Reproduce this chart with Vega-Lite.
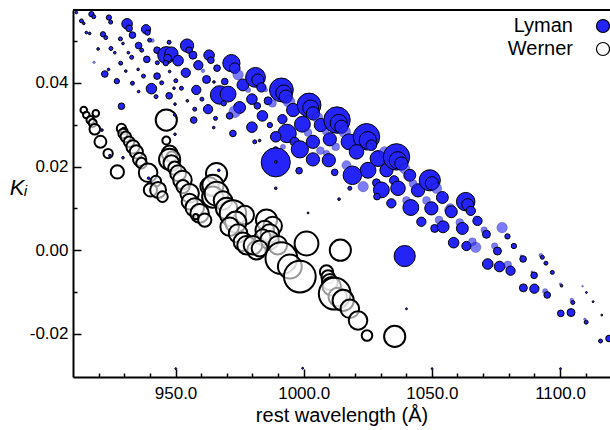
{
  "$schema": "https://vega.github.io/schema/vega-lite/v6.json",
  "width": 537,
  "height": 367,
  "autosize": {"type": "none"},
  "padding": {"left": 73, "top": 10, "right": 0, "bottom": 53},
  "config": {"font": "Liberation Sans", "view": {"stroke": null}},
  "data": {"values": [
    {"band":"Lyman","wl":911.3,"k":0.0568,"w":4,"g":"a"},
    {"band":"Lyman","wl":917.2,"k":0.0564,"w":16,"g":"a"},
    {"band":"Lyman","wl":918.1,"k":0.0558,"w":9,"g":"a"},
    {"band":"Lyman","wl":924.0,"k":0.0556,"w":16,"g":"a"},
    {"band":"Lyman","wl":924.7,"k":0.0545,"w":9,"g":"a"},
    {"band":"Lyman","wl":931.1,"k":0.0541,"w":64,"g":"a"},
    {"band":"Lyman","wl":931.9,"k":0.0530,"w":25,"g":"a"},
    {"band":"Lyman","wl":938.5,"k":0.0528,"w":49,"g":"a"},
    {"band":"Lyman","wl":939.1,"k":0.0520,"w":16,"g":"a"},
    {"band":"Lyman","wl":941.0,"k":0.0501,"w":9,"g":"b"},
    {"band":"Lyman","wl":947.5,"k":0.0497,"w":9,"g":"a"},
    {"band":"Lyman","wl":954.5,"k":0.0489,"w":100,"g":"a"},
    {"band":"Lyman","wl":955.3,"k":0.0478,"w":25,"g":"a"},
    {"band":"Lyman","wl":956.8,"k":0.0466,"w":36,"g":"a"},
    {"band":"Lyman","wl":963.1,"k":0.0466,"w":64,"g":"a"},
    {"band":"Lyman","wl":963.8,"k":0.0454,"w":25,"g":"a"},
    {"band":"Lyman","wl":971.8,"k":0.0447,"w":169,"g":"a"},
    {"band":"Lyman","wl":973.1,"k":0.0435,"w":64,"g":"a"},
    {"band":"Lyman","wl":974.4,"k":0.0419,"w":64,"g":"b"},
    {"band":"Lyman","wl":976.3,"k":0.0395,"w":81,"g":"a"},
    {"band":"Lyman","wl":978.3,"k":0.0383,"w":16,"g":"b"},
    {"band":"Lyman","wl":981.2,"k":0.0413,"w":225,"g":"a"},
    {"band":"Lyman","wl":982.1,"k":0.0407,"w":81,"g":"a"},
    {"band":"Lyman","wl":983.5,"k":0.0389,"w":49,"g":"a"},
    {"band":"Lyman","wl":979.8,"k":0.0361,"w":64,"g":"a"},
    {"band":"Lyman","wl":981.9,"k":0.0345,"w":25,"g":"a"},
    {"band":"Lyman","wl":983.9,"k":0.0321,"w":64,"g":"a"},
    {"band":"Lyman","wl":979.8,"k":0.0294,"w":64,"g":"a"},
    {"band":"Lyman","wl":980.9,"k":0.0259,"w":9,"g":"a"},
    {"band":"Lyman","wl":982.8,"k":0.0262,"w":4,"g":"a"},
    {"band":"Lyman","wl":913.3,"k":0.0548,"w":9,"g":"a"},
    {"band":"Lyman","wl":914.2,"k":0.0542,"w":4,"g":"a"},
    {"band":"Lyman","wl":915.2,"k":0.0520,"w":4,"g":"a"},
    {"band":"Lyman","wl":916.5,"k":0.0518,"w":4,"g":"a"},
    {"band":"Lyman","wl":921.7,"k":0.0516,"w":16,"g":"a"},
    {"band":"Lyman","wl":922.8,"k":0.0508,"w":9,"g":"a"},
    {"band":"Lyman","wl":928.5,"k":0.0505,"w":9,"g":"a"},
    {"band":"Lyman","wl":929.5,"k":0.0494,"w":4,"g":"a"},
    {"band":"Lyman","wl":933.2,"k":0.0514,"w":25,"g":"a"},
    {"band":"Lyman","wl":935.6,"k":0.0489,"w":25,"g":"a"},
    {"band":"Lyman","wl":936.8,"k":0.0478,"w":9,"g":"a"},
    {"band":"Lyman","wl":942.8,"k":0.0478,"w":25,"g":"a"},
    {"band":"Lyman","wl":939.9,"k":0.0502,"w":9,"g":"a"},
    {"band":"Lyman","wl":946.4,"k":0.0466,"w":169,"g":"a"},
    {"band":"Lyman","wl":948.4,"k":0.0470,"w":100,"g":"a"},
    {"band":"Lyman","wl":946.9,"k":0.0459,"w":36,"g":"a"},
    {"band":"Lyman","wl":951.0,"k":0.0453,"w":64,"g":"a"},
    {"band":"Lyman","wl":946.2,"k":0.0447,"w":16,"g":"a"},
    {"band":"Lyman","wl":947.7,"k":0.0427,"w":4,"g":"a"},
    {"band":"Lyman","wl":954.0,"k":0.0424,"w":49,"g":"a"},
    {"band":"Lyman","wl":958.9,"k":0.0442,"w":49,"g":"a"},
    {"band":"Lyman","wl":960.7,"k":0.0429,"w":9,"g":"b"},
    {"band":"Lyman","wl":962.1,"k":0.0408,"w":36,"g":"a"},
    {"band":"Lyman","wl":966.2,"k":0.0435,"w":25,"g":"a"},
    {"band":"Lyman","wl":969.2,"k":0.0403,"w":25,"g":"a"},
    {"band":"Lyman","wl":965.0,"k":0.0402,"w":4,"g":"a"},
    {"band":"Lyman","wl":967.2,"k":0.0371,"w":196,"g":"a"},
    {"band":"Lyman","wl":970.5,"k":0.0373,"w":144,"g":"a"},
    {"band":"Lyman","wl":968.8,"k":0.0351,"w":16,"g":"a"},
    {"band":"Lyman","wl":975.0,"k":0.0341,"w":81,"g":"a"},
    {"band":"Lyman","wl":973.1,"k":0.0331,"w":81,"g":"b"},
    {"band":"Lyman","wl":971.1,"k":0.0321,"w":25,"g":"a"},
    {"band":"Lyman","wl":919.8,"k":0.0481,"w":4,"g":"a"},
    {"band":"Lyman","wl":918.2,"k":0.0449,"w":4,"g":"b"},
    {"band":"Lyman","wl":924.8,"k":0.0482,"w":9,"g":"a"},
    {"band":"Lyman","wl":926.3,"k":0.0472,"w":4,"g":"a"},
    {"band":"Lyman","wl":931.6,"k":0.0472,"w":4,"g":"a"},
    {"band":"Lyman","wl":928.6,"k":0.0447,"w":9,"g":"a"},
    {"band":"Lyman","wl":932.9,"k":0.0461,"w":9,"g":"a"},
    {"band":"Lyman","wl":938.8,"k":0.0456,"w":25,"g":"a"},
    {"band":"Lyman","wl":942.9,"k":0.0448,"w":9,"g":"a"},
    {"band":"Lyman","wl":930.6,"k":0.0428,"w":4,"g":"a"},
    {"band":"Lyman","wl":935.4,"k":0.0432,"w":4,"g":"a"},
    {"band":"Lyman","wl":922.4,"k":0.0421,"w":25,"g":"a"},
    {"band":"Lyman","wl":923.9,"k":0.0432,"w":4,"g":"a"},
    {"band":"Lyman","wl":927.1,"k":0.0404,"w":16,"g":"a"},
    {"band":"Lyman","wl":933.2,"k":0.0399,"w":9,"g":"a"},
    {"band":"Lyman","wl":937.5,"k":0.0416,"w":9,"g":"a"},
    {"band":"Lyman","wl":942.8,"k":0.0416,"w":25,"g":"a"},
    {"band":"Lyman","wl":944.6,"k":0.0400,"w":9,"g":"a"},
    {"band":"Lyman","wl":940.6,"k":0.0386,"w":64,"g":"a"},
    {"band":"Lyman","wl":942.4,"k":0.0367,"w":9,"g":"a"},
    {"band":"Lyman","wl":935.6,"k":0.0379,"w":4,"g":"a"},
    {"band":"Lyman","wl":947.5,"k":0.0369,"w":25,"g":"a"},
    {"band":"Lyman","wl":949.4,"k":0.0387,"w":4,"g":"a"},
    {"band":"Lyman","wl":950.1,"k":0.0405,"w":9,"g":"a"},
    {"band":"Lyman","wl":952.3,"k":0.0387,"w":9,"g":"a"},
    {"band":"Lyman","wl":958.1,"k":0.0383,"w":49,"g":"a"},
    {"band":"Lyman","wl":960.3,"k":0.0361,"w":9,"g":"a"},
    {"band":"Lyman","wl":954.6,"k":0.0357,"w":4,"g":"a"},
    {"band":"Lyman","wl":949.8,"k":0.0349,"w":4,"g":"a"},
    {"band":"Lyman","wl":957.5,"k":0.0337,"w":9,"g":"a"},
    {"band":"Lyman","wl":962.7,"k":0.0337,"w":49,"g":"a"},
    {"band":"Lyman","wl":965.6,"k":0.0315,"w":9,"g":"a"},
    {"band":"Lyman","wl":957.1,"k":0.0311,"w":25,"g":"a"},
    {"band":"Lyman","wl":964.9,"k":0.0293,"w":4,"g":"a"},
    {"band":"Lyman","wl":928.9,"k":0.0344,"w":25,"g":"a"},
    {"band":"Lyman","wl":949.7,"k":0.0323,"w":4,"g":"a"},
    {"band":"Lyman","wl":949.8,"k":0.0277,"w":4,"g":"a"},
    {"band":"Lyman","wl":972.4,"k":0.0279,"w":25,"g":"a"},
    {"band":"Lyman","wl":985.2,"k":0.0383,"w":9,"g":"b"},
    {"band":"Lyman","wl":986.1,"k":0.0357,"w":36,"g":"a"},
    {"band":"Lyman","wl":987.8,"k":0.0351,"w":36,"g":"b"},
    {"band":"Lyman","wl":991.3,"k":0.0383,"w":324,"g":"a"},
    {"band":"Lyman","wl":992.2,"k":0.0376,"w":144,"g":"a"},
    {"band":"Lyman","wl":993.0,"k":0.0367,"w":100,"g":"a"},
    {"band":"Lyman","wl":994.3,"k":0.0355,"w":81,"g":"b"},
    {"band":"Lyman","wl":995.9,"k":0.0335,"w":100,"g":"a"},
    {"band":"Lyman","wl":991.7,"k":0.0313,"w":49,"g":"a"},
    {"band":"Lyman","wl":986.8,"k":0.0299,"w":16,"g":"a"},
    {"band":"Lyman","wl":993.5,"k":0.0279,"w":196,"g":"a"},
    {"band":"Lyman","wl":989.1,"k":0.0271,"w":64,"g":"a"},
    {"band":"Lyman","wl":996.5,"k":0.0259,"w":49,"g":"a"},
    {"band":"Lyman","wl":991.9,"k":0.0247,"w":16,"g":"b"},
    {"band":"Lyman","wl":1002.1,"k":0.0347,"w":324,"g":"a"},
    {"band":"Lyman","wl":1002.7,"k":0.0340,"w":144,"g":"a"},
    {"band":"Lyman","wl":1003.6,"k":0.0327,"w":100,"g":"a"},
    {"band":"Lyman","wl":1005.4,"k":0.0317,"w":64,"g":"b"},
    {"band":"Lyman","wl":999.5,"k":0.0301,"w":144,"g":"a"},
    {"band":"Lyman","wl":1001.7,"k":0.0281,"w":36,"g":"b"},
    {"band":"Lyman","wl":1003.6,"k":0.0259,"w":100,"g":"a"},
    {"band":"Lyman","wl":1006.7,"k":0.0299,"w":100,"g":"a"},
    {"band":"Lyman","wl":1010.2,"k":0.0265,"w":100,"g":"a"},
    {"band":"Lyman","wl":1008.6,"k":0.0283,"w":25,"g":"b"},
    {"band":"Lyman","wl":1013.0,"k":0.0311,"w":400,"g":"a"},
    {"band":"Lyman","wl":1013.7,"k":0.0304,"w":169,"g":"a"},
    {"band":"Lyman","wl":1014.7,"k":0.0295,"w":100,"g":"a"},
    {"band":"Lyman","wl":1016.0,"k":0.0283,"w":81,"g":"b"},
    {"band":"Lyman","wl":1017.7,"k":0.0259,"w":144,"g":"a"},
    {"band":"Lyman","wl":1012.5,"k":0.0247,"w":36,"g":"b"},
    {"band":"Lyman","wl":1024.5,"k":0.0271,"w":400,"g":"a"},
    {"band":"Lyman","wl":1025.0,"k":0.0263,"w":169,"g":"a"},
    {"band":"Lyman","wl":1026.4,"k":0.0251,"w":64,"g":"a"},
    {"band":"Lyman","wl":998.5,"k":0.0241,"w":169,"g":"a"},
    {"band":"Lyman","wl":989.1,"k":0.0241,"w":16,"g":"a"},
    {"band":"Lyman","wl":1006.5,"k":0.0238,"w":36,"g":"b"},
    {"band":"Lyman","wl":1008.9,"k":0.0231,"w":25,"g":"b"},
    {"band":"Lyman","wl":1009.8,"k":0.0215,"w":100,"g":"a"},
    {"band":"Lyman","wl":1003.6,"k":0.0217,"w":100,"g":"a"},
    {"band":"Lyman","wl":998.2,"k":0.0190,"w":25,"g":"a"},
    {"band":"Lyman","wl":1012.1,"k":0.0186,"w":25,"g":"a"},
    {"band":"Lyman","wl":1016.7,"k":0.0203,"w":49,"g":"b"},
    {"band":"Lyman","wl":1020.6,"k":0.0235,"w":121,"g":"a"},
    {"band":"Lyman","wl":1025.8,"k":0.0247,"w":36,"g":"b"},
    {"band":"Lyman","wl":1029.0,"k":0.0219,"w":144,"g":"a"},
    {"band":"Lyman","wl":1031.6,"k":0.0235,"w":64,"g":"b"},
    {"band":"Lyman","wl":1025.1,"k":0.0191,"w":144,"g":"a"},
    {"band":"Lyman","wl":1019.0,"k":0.0179,"w":196,"g":"a"},
    {"band":"Lyman","wl":1023.2,"k":0.0152,"w":64,"g":"b"},
    {"band":"Lyman","wl":1018.0,"k":0.0148,"w":9,"g":"a"},
    {"band":"Lyman","wl":1028.4,"k":0.0161,"w":36,"g":"a"},
    {"band":"Lyman","wl":1030.3,"k":0.0144,"w":144,"g":"a"},
    {"band":"Lyman","wl":1028.6,"k":0.0128,"w":25,"g":"a"},
    {"band":"Lyman","wl":1032.3,"k":0.0191,"w":100,"g":"a"},
    {"band":"Lyman","wl":1035.3,"k":0.0167,"w":49,"g":"a"},
    {"band":"Lyman","wl":1036.8,"k":0.0148,"w":121,"g":"a"},
    {"band":"Lyman","wl":1034.2,"k":0.0112,"w":49,"g":"a"},
    {"band":"Lyman","wl":1036.2,"k":0.0223,"w":400,"g":"a"},
    {"band":"Lyman","wl":1036.7,"k":0.0215,"w":169,"g":"a"},
    {"band":"Lyman","wl":1038.1,"k":0.0207,"w":100,"g":"a"},
    {"band":"Lyman","wl":1039.4,"k":0.0195,"w":64,"g":"b"},
    {"band":"Lyman","wl":1041.4,"k":0.0179,"w":81,"g":"a"},
    {"band":"Lyman","wl":1040.1,"k":0.0119,"w":36,"g":"b"},
    {"band":"Lyman","wl":1041.8,"k":0.0102,"w":144,"g":"a"},
    {"band":"Lyman","wl":1044.6,"k":0.0143,"w":100,"g":"a"},
    {"band":"Lyman","wl":1042.7,"k":0.0159,"w":36,"g":"b"},
    {"band":"Lyman","wl":1045.9,"k":0.0068,"w":49,"g":"a"},
    {"band":"Lyman","wl":1049.2,"k":0.0167,"w":256,"g":"a"},
    {"band":"Lyman","wl":1050.0,"k":0.0160,"w":100,"g":"a"},
    {"band":"Lyman","wl":1051.8,"k":0.0148,"w":64,"g":"b"},
    {"band":"Lyman","wl":1047.9,"k":0.0119,"w":36,"g":"b"},
    {"band":"Lyman","wl":1049.8,"k":0.0100,"w":100,"g":"a"},
    {"band":"Lyman","wl":1054.1,"k":0.0126,"w":81,"g":"a"},
    {"band":"Lyman","wl":1056.7,"k":0.0096,"w":49,"g":"b"},
    {"band":"Lyman","wl":1052.8,"k":0.0072,"w":36,"g":"b"},
    {"band":"Lyman","wl":1051.1,"k":0.0052,"w":36,"g":"a"},
    {"band":"Lyman","wl":1054.4,"k":0.0056,"w":81,"g":"a"},
    {"band":"Lyman","wl":989.1,"k":0.0210,"w":484,"g":"a"},
    {"band":"Lyman","wl":989.1,"k":0.0211,"w":4,"g":"a"},
    {"band":"Lyman","wl":989.1,"k":0.0148,"w":4,"g":"a"},
    {"band":"Lyman","wl":1013.8,"k":0.0122,"w":4,"g":"a"},
    {"band":"Lyman","wl":1001.7,"k":0.0089,"w":2,"g":"a"},
    {"band":"Lyman","wl":1057.2,"k":0.0102,"w":36,"g":"b"},
    {"band":"Lyman","wl":1057.6,"k":0.0092,"w":81,"g":"a"},
    {"band":"Lyman","wl":1063.2,"k":0.0116,"w":196,"g":"a"},
    {"band":"Lyman","wl":1064.0,"k":0.0109,"w":81,"g":"a"},
    {"band":"Lyman","wl":1065.2,"k":0.0094,"w":49,"g":"a"},
    {"band":"Lyman","wl":1060.9,"k":0.0066,"w":36,"g":"b"},
    {"band":"Lyman","wl":1061.9,"k":0.0052,"w":81,"g":"a"},
    {"band":"Lyman","wl":1067.8,"k":0.0070,"w":49,"g":"a"},
    {"band":"Lyman","wl":1067.0,"k":0.0077,"w":9,"g":"b"},
    {"band":"Lyman","wl":1070.4,"k":0.0048,"w":25,"g":"b"},
    {"band":"Lyman","wl":1071.3,"k":0.0038,"w":36,"g":"a"},
    {"band":"Lyman","wl":1077.4,"k":0.0054,"w":64,"g":"b"},
    {"band":"Lyman","wl":1079.5,"k":0.0033,"w":16,"g":"a"},
    {"band":"Lyman","wl":1082.0,"k":0.0010,"w":16,"g":"a"},
    {"band":"Lyman","wl":1058.5,"k":0.0018,"w":64,"g":"a"},
    {"band":"Lyman","wl":1063.5,"k":0.0010,"w":49,"g":"a"},
    {"band":"Lyman","wl":1065.8,"k":0.0020,"w":36,"g":"b"},
    {"band":"Lyman","wl":1067.1,"k":0.0007,"w":64,"g":"b"},
    {"band":"Lyman","wl":1074.5,"k":0.0010,"w":25,"g":"b"},
    {"band":"Lyman","wl":1075.6,"k":-0.0002,"w":36,"g":"a"},
    {"band":"Lyman","wl":1084.9,"k":-0.0014,"w":4,"g":"b"},
    {"band":"Lyman","wl":1085.6,"k":-0.0021,"w":25,"g":"a"},
    {"band":"Lyman","wl":1092.5,"k":-0.0012,"w":9,"g":"b"},
    {"band":"Lyman","wl":1093.1,"k":-0.0017,"w":9,"g":"a"},
    {"band":"Lyman","wl":1094.5,"k":-0.0031,"w":9,"g":"a"},
    {"band":"Lyman","wl":1097.0,"k":-0.0053,"w":9,"g":"a"},
    {"band":"Lyman","wl":1071.8,"k":-0.0033,"w":64,"g":"a"},
    {"band":"Lyman","wl":1076.4,"k":-0.0039,"w":64,"g":"a"},
    {"band":"Lyman","wl":1079.6,"k":-0.0035,"w":36,"g":"b"},
    {"band":"Lyman","wl":1080.7,"k":-0.0049,"w":49,"g":"a"},
    {"band":"Lyman","wl":1089.1,"k":-0.0052,"w":4,"g":"b"},
    {"band":"Lyman","wl":1089.9,"k":-0.0060,"w":25,"g":"a"},
    {"band":"Lyman","wl":1085.7,"k":-0.0090,"w":36,"g":"a"},
    {"band":"Lyman","wl":1090.0,"k":-0.0092,"w":49,"g":"a"},
    {"band":"Lyman","wl":1094.2,"k":-0.0098,"w":16,"g":"b"},
    {"band":"Lyman","wl":1095.0,"k":-0.0107,"w":25,"g":"a"},
    {"band":"Lyman","wl":1100.2,"k":-0.0081,"w":4,"g":"b"},
    {"band":"Lyman","wl":1100.6,"k":-0.0085,"w":4,"g":"a"},
    {"band":"Lyman","wl":1108.8,"k":-0.0086,"w":2,"g":"b"},
    {"band":"Lyman","wl":1110.3,"k":-0.0101,"w":2,"g":"a"},
    {"band":"Lyman","wl":1112.9,"k":-0.0123,"w":2,"g":"a"},
    {"band":"Lyman","wl":1104.6,"k":-0.0119,"w":9,"g":"b"},
    {"band":"Lyman","wl":1105.0,"k":-0.0125,"w":9,"g":"a"},
    {"band":"Lyman","wl":1100.3,"k":-0.0151,"w":25,"g":"a"},
    {"band":"Lyman","wl":1104.3,"k":-0.0149,"w":36,"g":"a"},
    {"band":"Lyman","wl":1109.7,"k":-0.0165,"w":4,"g":"b"},
    {"band":"Lyman","wl":1110.2,"k":-0.0172,"w":9,"g":"a"},
    {"band":"Lyman","wl":1116.3,"k":-0.0155,"w":2,"g":"a"},
    {"band":"Lyman","wl":1115.8,"k":-0.0217,"w":9,"g":"a"},
    {"band":"Lyman","wl":1119.1,"k":-0.0211,"w":25,"g":"a"},
    {"band":"Lyman","wl":1050.1,"k":-0.0283,"w":2,"g":"a"},
    {"band":"Lyman","wl":1100.2,"k":-0.0283,"w":2,"g":"a"},
    {"band":"Lyman","wl":1039.4,"k":-0.0014,"w":256,"g":"a"},
    {"band":"Lyman","wl":1040.1,"k":-0.0140,"w":2,"g":"a"},
    {"band":"Lyman","wl":999.6,"k":-0.0282,"w":2,"g":"a"},
    {"band":"Lyman","wl":950.1,"k":-0.0283,"w":2,"g":"a"},
    {"band":"Lyman","wl":921.3,"k":0.0287,"w":4,"g":"a"},
    {"band":"Lyman","wl":924.4,"k":0.0226,"w":4,"g":"a"},
    {"band":"Lyman","wl":929.5,"k":0.0221,"w":4,"g":"a"},
    {"band":"Lyman","wl":939.5,"k":0.0172,"w":4,"g":"a"},
    {"band":"Lyman","wl":966.9,"k":0.0191,"w":4,"g":"a"},
    {"band":"Werner","wl":914.2,"k":0.0335,"w":25,"g":"a"},
    {"band":"Werner","wl":915.2,"k":0.0323,"w":25,"g":"a"},
    {"band":"Werner","wl":916.8,"k":0.0311,"w":36,"g":"a"},
    {"band":"Werner","wl":918.9,"k":0.0327,"w":25,"g":"a"},
    {"band":"Werner","wl":917.7,"k":0.0304,"w":36,"g":"a"},
    {"band":"Werner","wl":918.5,"k":0.0289,"w":64,"g":"a"},
    {"band":"Werner","wl":920.7,"k":0.0259,"w":81,"g":"a"},
    {"band":"Werner","wl":923.7,"k":0.0231,"w":49,"g":"a"},
    {"band":"Werner","wl":927.3,"k":0.0187,"w":100,"g":"a"},
    {"band":"Werner","wl":928.9,"k":0.0291,"w":49,"g":"a"},
    {"band":"Werner","wl":930.0,"k":0.0285,"w":25,"g":"a"},
    {"band":"Werner","wl":929.5,"k":0.0279,"w":49,"g":"a"},
    {"band":"Werner","wl":930.6,"k":0.0271,"w":64,"g":"a"},
    {"band":"Werner","wl":931.9,"k":0.0259,"w":64,"g":"a"},
    {"band":"Werner","wl":933.4,"k":0.0247,"w":100,"g":"a"},
    {"band":"Werner","wl":934.7,"k":0.0235,"w":100,"g":"a"},
    {"band":"Werner","wl":936.0,"k":0.0217,"w":100,"g":"a"},
    {"band":"Werner","wl":936.7,"k":0.0208,"w":64,"g":"a"},
    {"band":"Werner","wl":939.3,"k":0.0185,"w":196,"g":"a"},
    {"band":"Werner","wl":942.3,"k":0.0165,"w":64,"g":"a"},
    {"band":"Werner","wl":940.2,"k":0.0144,"w":100,"g":"a"},
    {"band":"Werner","wl":943.2,"k":0.0144,"w":144,"g":"a"},
    {"band":"Werner","wl":944.9,"k":0.0128,"w":64,"g":"a"},
    {"band":"Werner","wl":946.4,"k":0.0311,"w":256,"g":"a"},
    {"band":"Werner","wl":946.4,"k":0.0262,"w":36,"g":"a"},
    {"band":"Werner","wl":947.7,"k":0.0231,"w":144,"g":"a"},
    {"band":"Werner","wl":948.5,"k":0.0223,"w":64,"g":"a"},
    {"band":"Werner","wl":947.7,"k":0.0217,"w":256,"g":"a"},
    {"band":"Werner","wl":948.4,"k":0.0208,"w":144,"g":"a"},
    {"band":"Werner","wl":949.7,"k":0.0196,"w":100,"g":"a"},
    {"band":"Werner","wl":951.0,"k":0.0184,"w":144,"g":"a"},
    {"band":"Werner","wl":952.7,"k":0.0168,"w":196,"g":"a"},
    {"band":"Werner","wl":952.9,"k":0.0152,"w":100,"g":"a"},
    {"band":"Werner","wl":955.5,"k":0.0136,"w":196,"g":"a"},
    {"band":"Werner","wl":955.5,"k":0.0116,"w":144,"g":"a"},
    {"band":"Werner","wl":957.5,"k":0.0102,"w":196,"g":"a"},
    {"band":"Werner","wl":959.4,"k":0.0088,"w":196,"g":"a"},
    {"band":"Werner","wl":961.4,"k":0.0072,"w":100,"g":"a"},
    {"band":"Werner","wl":957.9,"k":0.0080,"w":16,"g":"a"},
    {"band":"Werner","wl":966.0,"k":0.0183,"w":256,"g":"a"},
    {"band":"Werner","wl":963.3,"k":0.0152,"w":196,"g":"a"},
    {"band":"Werner","wl":964.6,"k":0.0155,"w":256,"g":"a"},
    {"band":"Werner","wl":964.5,"k":0.0127,"w":256,"g":"a"},
    {"band":"Werner","wl":966.0,"k":0.0135,"w":324,"g":"a"},
    {"band":"Werner","wl":968.5,"k":0.0119,"w":196,"g":"a"},
    {"band":"Werner","wl":969.9,"k":0.0100,"w":256,"g":"a"},
    {"band":"Werner","wl":972.4,"k":0.0088,"w":400,"g":"a"},
    {"band":"Werner","wl":977.0,"k":0.0084,"w":196,"g":"a"},
    {"band":"Werner","wl":973.5,"k":0.0067,"w":256,"g":"a"},
    {"band":"Werner","wl":971.1,"k":0.0056,"w":196,"g":"a"},
    {"band":"Werner","wl":974.4,"k":0.0040,"w":196,"g":"a"},
    {"band":"Werner","wl":976.3,"k":0.0020,"w":196,"g":"a"},
    {"band":"Werner","wl":977.7,"k":0.0012,"w":196,"g":"a"},
    {"band":"Werner","wl":981.6,"k":0.0000,"w":196,"g":"a"},
    {"band":"Werner","wl":985.5,"k":0.0072,"w":256,"g":"a"},
    {"band":"Werner","wl":987.9,"k":0.0058,"w":196,"g":"a"},
    {"band":"Werner","wl":984.8,"k":0.0048,"w":196,"g":"a"},
    {"band":"Werner","wl":986.8,"k":0.0040,"w":196,"g":"a"},
    {"band":"Werner","wl":984.0,"k":0.0031,"w":144,"g":"a"},
    {"band":"Werner","wl":986.7,"k":0.0024,"w":196,"g":"a"},
    {"band":"Werner","wl":989.9,"k":0.0012,"w":196,"g":"a"},
    {"band":"Werner","wl":980.2,"k":0.0012,"w":196,"g":"a"},
    {"band":"Werner","wl":982.8,"k":0.0004,"w":144,"g":"a"},
    {"band":"Werner","wl":991.3,"k":-0.0019,"w":576,"g":"a"},
    {"band":"Werner","wl":994.6,"k":-0.0039,"w":324,"g":"a"},
    {"band":"Werner","wl":998.5,"k":-0.0063,"w":576,"g":"a"},
    {"band":"Werner","wl":1001.1,"k":0.0016,"w":324,"g":"a"},
    {"band":"Werner","wl":1014.3,"k":0.0000,"w":256,"g":"a"},
    {"band":"Werner","wl":1008.9,"k":-0.0052,"w":100,"g":"a"},
    {"band":"Werner","wl":1009.5,"k":-0.0064,"w":100,"g":"a"},
    {"band":"Werner","wl":1010.2,"k":-0.0076,"w":144,"g":"a"},
    {"band":"Werner","wl":1010.9,"k":-0.0086,"w":196,"g":"a"},
    {"band":"Werner","wl":1013.3,"k":-0.0112,"w":196,"g":"a"},
    {"band":"Werner","wl":1012.1,"k":-0.0104,"w":576,"g":"a"},
    {"band":"Werner","wl":1015.4,"k":-0.0120,"w":256,"g":"a"},
    {"band":"Werner","wl":1018.0,"k":-0.0140,"w":196,"g":"a"},
    {"band":"Werner","wl":1021.2,"k":-0.0168,"w":196,"g":"a"},
    {"band":"Werner","wl":1024.7,"k":-0.0204,"w":64,"g":"a"},
    {"band":"Werner","wl":1035.5,"k":-0.0206,"w":256,"g":"a"}
  ]},
  "layer": [
    {
      "transform": [{"filter": "datum.band === 'Werner'"}],
      "mark": {"type": "point", "shape": "circle", "filled": false, "fill": "white", "stroke": "black", "strokeWidth": 2, "opacity": 1, "fillOpacity": 0.6, "strokeOpacity": 1},
      "encoding": {
        "x": {"field": "wl", "type": "quantitative",
          "scale": {"domain": [910, 1119.5], "nice": false, "zero": false},
          "axis": {"orient": "bottom", "values": [950, 1000, 1050, 1100], "format": ".1f", "tickSize": -8, "tickWidth": 1.5, "tickColor": "black",
            "domainColor": "black", "domainWidth": 2, "labelPadding": 16, "labelFontSize": 17, "labelColor": "black",
            "labelFont": "Liberation Sans", "labelFlush": false, "grid": false,
            "title": "rest wavelength (Å)", "titleFontSize": 20, "titleFontWeight": "normal", "titleColor": "black",
            "titleFont": "Liberation Sans", "titlePadding": 4}},
        "y": {"field": "k", "type": "quantitative",
          "scale": {"domain": [-0.0303, 0.0574], "nice": false, "zero": false},
          "axis": {"orient": "left", "values": [-0.02, 0, 0.02, 0.04],
            "labelExpr": "datum.value < 0 ? '-' + format(-datum.value, '.2f') : format(datum.value, '.2f')",
            "tickSize": -8, "tickWidth": 1.5, "tickColor": "black",
            "domainColor": "black", "domainWidth": 2, "labelPadding": 13, "labelFontSize": 17, "labelColor": "black",
            "labelFont": "Liberation Sans", "labelFlush": false, "grid": false,
            "title": "Kᵢ", "titleAngle": 0, "titleFontStyle": "italic", "titleFontSize": 22, "titleFontWeight": "normal",
            "titleColor": "black", "titleFont": "Liberation Sans", "titleX": -55, "titleY": 177,
            "titleAlign": "center", "titleBaseline": "middle"}},
        "size": {"field": "w", "type": "quantitative", "scale": {"type": "linear", "domain": [0, 600], "range": [0, 1050], "zero": true, "nice": false}, "legend": null}
      }
    },
    {
      "transform": [{"filter": "datum.band === 'Lyman'"}],
      "mark": {"type": "circle", "stroke": "black", "strokeWidth": 1, "opacity": 1},
      "encoding": {
        "x": {"field": "wl", "type": "quantitative",
          "axis": {"orient": "bottom", "values": [920, 930, 940, 960, 970, 980, 990, 1010, 1020, 1030, 1040, 1060, 1070, 1080, 1090, 1110],
            "tickSize": -4, "tickWidth": 1.5, "tickColor": "black", "labels": false, "domain": false, "grid": false, "title": null}},
        "y": {"field": "k", "type": "quantitative",
          "axis": {"orient": "left", "values": [-0.01, 0.01, 0.03, 0.05],
            "tickSize": -4, "tickWidth": 1.5, "tickColor": "black", "labels": false, "domain": false, "grid": false, "title": null}},
        "fill": {"field": "band", "type": "nominal",
          "scale": {"domain": ["Lyman", "Werner"], "range": ["#2424f8", "#ffffff"]},
          "legend": {"orient": "none", "legendX": 520, "legendY": 6, "title": null, "padding": 0,
            "labelFontSize": 20, "labelFont": "Liberation Sans", "labelColor": "black", "labelAlign": "right",
            "labelOffset": -40, "symbolType": "circle", "symbolSize": 170, "symbolStrokeColor": "black",
            "symbolStrokeWidth": 1.2, "symbolOpacity": 1, "rowPadding": 3, "values": ["Lyman", "Werner"],
            "encode": {"symbols": {"update": {"opacity": {"value": 1}, "fillOpacity": {"value": 1}, "strokeOpacity": {"value": 1}}}}}},
        "size": {"field": "w", "type": "quantitative", "legend": null},
        "fillOpacity": {"field": "g", "type": "nominal", "scale": {"domain": ["a", "b"], "range": [1, 0.6]}, "legend": null},
        "strokeOpacity": {"field": "g", "type": "nominal", "scale": {"domain": ["a", "b"], "range": [1, 0.2]}, "legend": null}
      }
    },
    {
      "data": {"values": [{"edge": "top"}]},
      "mark": {"type": "rule", "color": "black", "strokeWidth": 2},
      "encoding": {"y": {"datum": 0.0574, "type": "quantitative", "axis": null}}
    }
  ],
  "resolve": {"axis": {"x": "independent", "y": "independent"}}
}
